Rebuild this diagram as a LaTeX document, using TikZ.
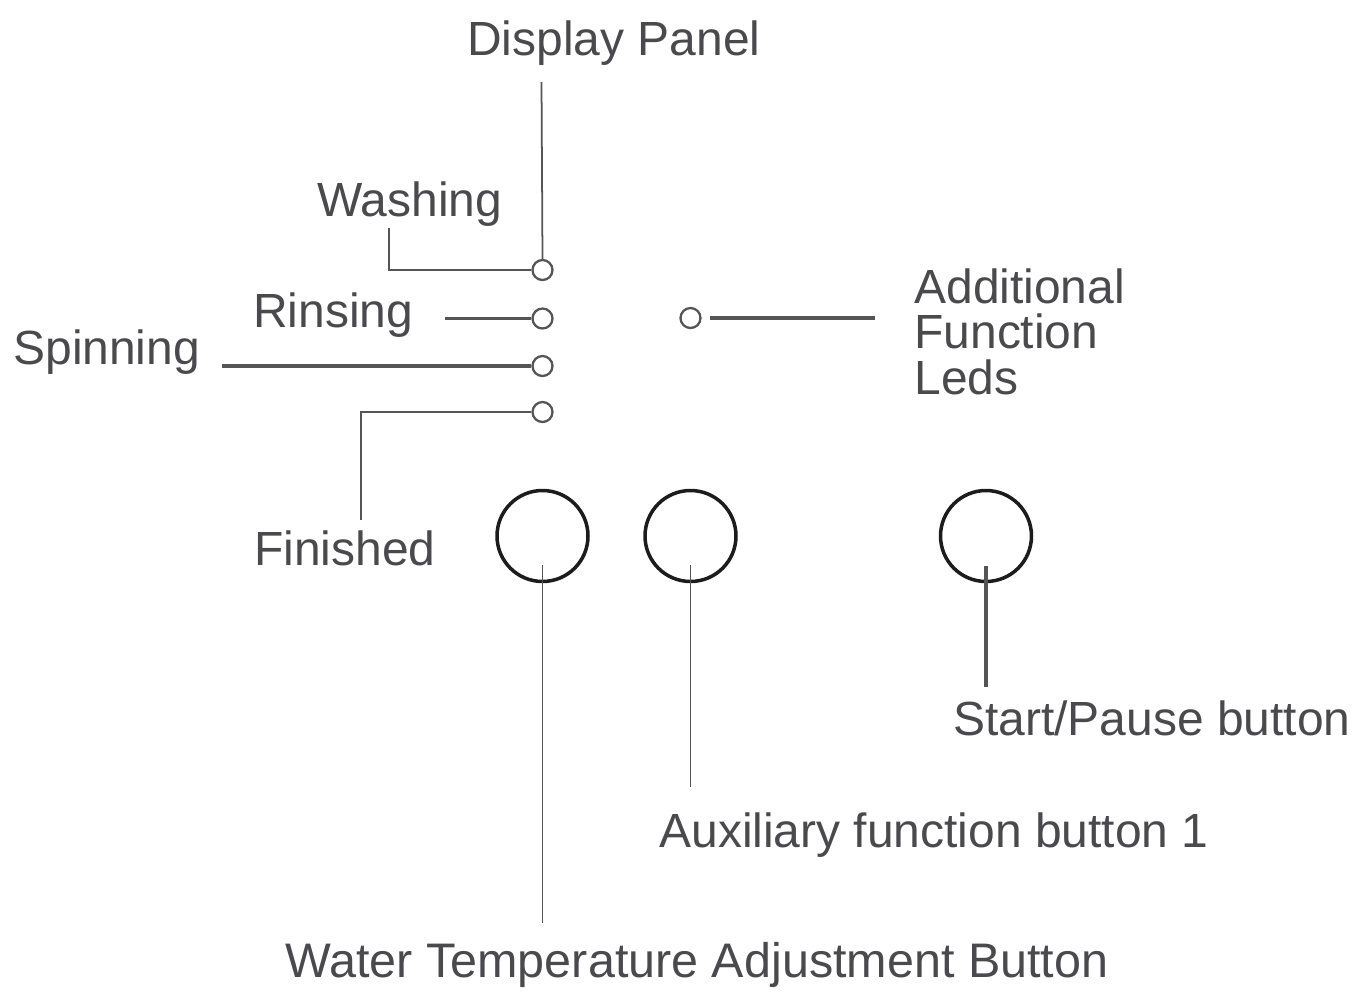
\documentclass[tikz,border=0pt]{standalone}
\usepackage{fontspec}
\setmainfont{Liberation Sans}
\definecolor{txtgray}{HTML}{4A4A4C}
\definecolor{linegray}{HTML}{555555}
\definecolor{ringblack}{HTML}{1C1C1C}
\begin{document}
\begin{tikzpicture}[x=0.02cm,y=-0.02cm,
  lbl/.style={anchor=base west,inner sep=0pt,text=txtgray,font=\fontsize{27.3}{33}\selectfont},
  led/.style={circle,draw=linegray,line width=1.3pt,minimum size=0.4cm,inner sep=0pt},
  btn/.style={circle,draw=ringblack,line width=2pt,minimum size=1.82cm,inner sep=0pt},
  wire/.style={draw=linegray,line width=1.3pt},
  thinwire/.style={draw=linegray,line width=1pt},
  thickwire/.style={draw=linegray,line width=1.8pt}]
\useasboundingbox (0,0) rectangle (1356,995);
% labels
\node[lbl] (dp) at (467,55) {Display Panel};
\node[lbl] (wash) at (317,216) {Washing};
\node[lbl] (rins) at (253,327) {Rinsing};
\node[lbl] (spin) at (13,364) {Spinning};
\node[lbl] (fin) at (254,565) {Finished};
\node[lbl,align=left,anchor=north west] (add) at (914,268) {Additional\\[-7pt]Function\\[-7pt]Leds};
\node[lbl] (sp) at (953,735) {Start/Pause button};
\node[lbl] (aux) at (659,847) {Auxiliary function button 1};
\node[lbl,font=\fontsize{27.6}{33}\selectfont] (wt) at (285,977) {Water Temperature Adjustment Button};
% leds
\node[led] (l1) at (542.5,270) {};
\node[led] (l2) at (542.5,318.5) {};
\node[led] (l3) at (542.5,366) {};
\node[led] (l4) at (542.5,412) {};
\node[led] (l5) at (690.5,318) {};
% buttons
\node[btn] (b1) at (542.5,536) {};
\node[btn] (b2) at (690.5,536) {};
\node[btn] (b3) at (986,536) {};
% free ends
\coordinate (dpEnd) at (541.5,82);
\coordinate (washEnd) at (389,228);
\coordinate (rinsEnd) at (445,318.5);
\coordinate (spinEnd) at (222,366);
\coordinate (finEnd) at (361,520);
\coordinate (addEnd) at (875,318);
\coordinate (b1top) at (542.5,565);
\coordinate (b1end) at (542.5,923);
\coordinate (b2top) at (690.5,565);
\coordinate (b2end) at (690.5,787);
\coordinate (b3top) at (986,566);
\coordinate (b3end) at (986,687);
% connectors
\draw[thinwire] (dpEnd) -- (l1.north);
\draw[wire] (washEnd) |- (l1.west);
\draw[wire] (rinsEnd) -- (l2.west);
\draw[thickwire] (spinEnd) -- (l3.west);
\draw[wire] (finEnd) |- (l4.west);
\draw[thickwire,shorten <=5pt] (l5.east) -- (addEnd);
\draw[thinwire] (b1top) -- (b1end);
\draw[thinwire] (b2top) -- (b2end);
\draw[thickwire] (b3top) -- (b3end);
\end{tikzpicture}
\end{document}
